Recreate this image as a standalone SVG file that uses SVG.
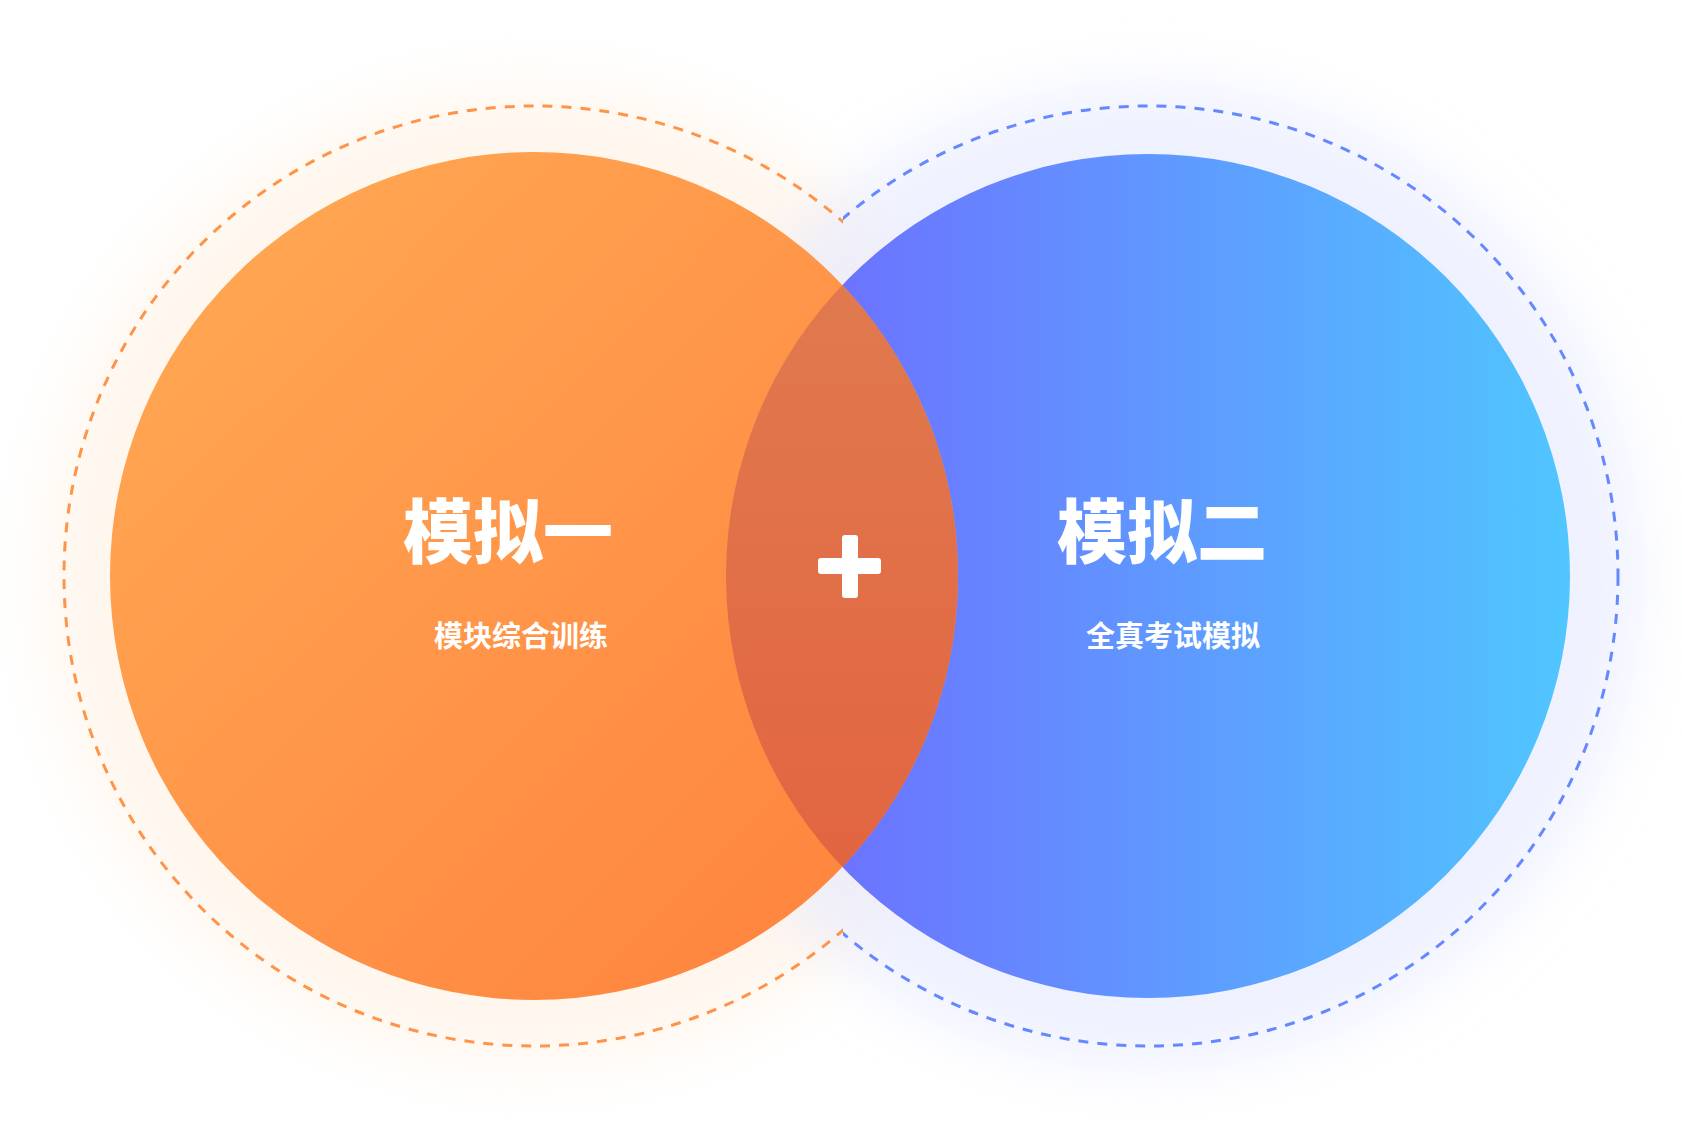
<svg xmlns="http://www.w3.org/2000/svg" width="1682" height="1128" viewBox="0 0 1682 1128">
<style>
.t{font-family:"Noto Sans CJK SC","Noto Sans",sans-serif;font-weight:900;fill:#fff;text-anchor:middle}
.ti{font-size:70px}.st{font-size:29px;font-weight:700}
</style>
<defs>
<linearGradient id="go" x1="0" y1="0" x2="1" y2="1"><stop offset="0" stop-color="#ffab55"/><stop offset="1" stop-color="#ff803c"/></linearGradient>
<linearGradient id="gb" x1="0" y1="0" x2="1" y2="0"><stop offset="0" stop-color="#7066ff"/><stop offset="1" stop-color="#50c6ff"/></linearGradient>
<linearGradient id="gm" x1="0" y1="0" x2="0" y2="1"><stop offset="0" stop-color="#e07e52"/><stop offset="1" stop-color="#e2603e"/></linearGradient>
<clipPath id="cl"><rect x="0" y="0" width="843" height="1128"/></clipPath>
<clipPath id="cr"><rect x="843" y="0" width="839" height="1128"/></clipPath>
<clipPath id="crc"><circle cx="1148" cy="576" r="422"/></clipPath>
<filter id="bl" x="-30%" y="-30%" width="160%" height="160%"><feGaussianBlur stdDeviation="30"/></filter>
</defs>
<rect width="1682" height="1128" fill="#fff"/>
<circle cx="534" cy="576" r="490" fill="#ffeedd" opacity="0.5" filter="url(#bl)"/>
<circle cx="1148" cy="576" r="490" fill="#e4e8ff" opacity="0.6" filter="url(#bl)"/>
<g id="connectors">
<circle cx="534" cy="576" r="470" fill="none" stroke="#ff9448" stroke-width="3" stroke-dasharray="10 9" clip-path="url(#cl)"/>
<circle cx="1148" cy="576" r="470" fill="none" stroke="#6688ff" stroke-width="3" stroke-dasharray="10 9" clip-path="url(#cr)"/>
</g>
<g id="right">
<circle cx="1148" cy="576" r="422" fill="url(#gb)"/>
<text class="t ti" x="1162" y="558">模拟二</text>
<text class="t st" x="1173" y="647">全真考试模拟</text>
</g>
<g id="left">
<circle cx="534" cy="576" r="424" fill="url(#go)"/>
<circle cx="534" cy="576" r="424" fill="url(#gm)" clip-path="url(#crc)"/>
<text class="t ti" x="508" y="558">模拟一</text>
<text class="t st" x="521" y="647">模块综合训练</text>
</g>
<g id="plus" fill="#fff">
<rect x="842" y="535" width="16" height="63" rx="3"/>
<rect x="818" y="558" width="63" height="16" rx="3"/>
</g>
</svg>
